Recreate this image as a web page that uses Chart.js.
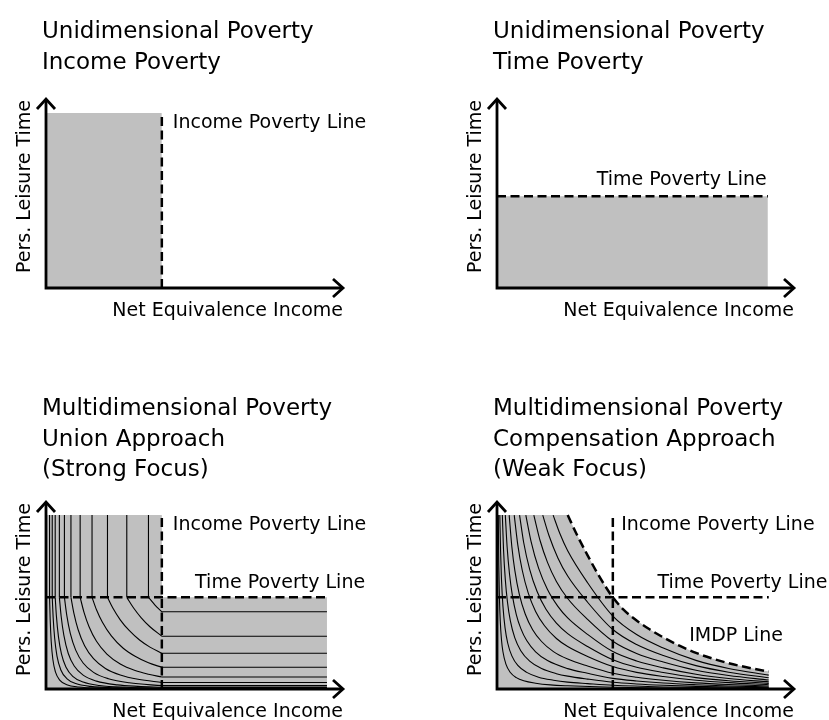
<!DOCTYPE html>
<html lang="en">

<head>
    <meta charset="UTF-8">
    <title>Poverty Concepts</title>
    <script src="https://cdn.jsdelivr.net/npm/chart.js"></script>
    <style>
        body { margin: 0; background: #fff; }
        .painel { position: absolute; }
    </style>
</head>

<body>
    <canvas id="chartIncome" class="painel" width="414" height="340" style="left:0;top:0"></canvas>
    <canvas id="chartTime" class="painel" width="415" height="340" style="left:414px;top:0"></canvas>
    <canvas id="chartUnion" class="painel" width="414" height="380" style="left:0;top:340px"></canvas>
    <canvas id="chartComp" class="painel" width="415" height="380" style="left:414px;top:340px"></canvas>

<script>
    // both axes run 0..100 (arrow tips)
    const AXIS_MAX = 100;
    const X_LABEL = 'Net Equivalence Income';
    const Y_LABEL = 'Pers. Leisure Time';

    const INCOME_LINE = 39;        // income poverty line (x)
    const TIME_LINE = 49;          // time poverty line (y), lower panels
    const TIME_LINE_TOP = 48.5;    // time poverty line, upper right panel
    const SHADE_TOP = 93;          // top of the shaded areas, lower panels
    const INCOME_SHADE_TOP = 92.6;
    const TIME_SHADE_RIGHT = 91.2;
    const UNION_RIGHT = 94.6;
    const COMP_RIGHT = 91.5;

    // union approach: contour levels
    const unionVerticalX = [34.5, 27.2, 20.7, 15.5, 11.5, 8.4, 6.2, 4.5, 3.1, 2.1, 1.2];
    const unionHorizontalY = [41.3, 28.2, 19.1, 11.6, 6.4, 3.5, 1.8, 0.9, 0.45, 0.25, 0.12];
    const unionCurves = [
        [[34.5, 49], [36.7, 44.9], [39, 41.3]],
        [[27.2, 49], [29.5, 43.3], [32, 38.2], [35, 33.3], [39, 28.2]],
        [[20.7, 49], [22.5, 43.3], [25, 37], [28, 31.3], [31.5, 26.2], [35, 22.4], [39, 19.1]],
        [[15.5, 49], [17, 42.4], [19, 35.7], [22, 28.4], [26, 21.8], [30, 17.5], [34.5, 14], [39, 11.6]],
        [[11.5, 49], [12.8, 41], [14.5, 33.3], [17, 25.5], [20.5, 18.7], [25, 13.4], [30, 9.9], [34.5, 7.9], [39, 6.4]],
        [[8.4, 49], [9.4, 40.4], [10.8, 31.8], [13, 23.1], [16, 16.2], [20, 11], [25, 7.5], [31, 5.2], [39, 3.5]],
        [[6.2, 49], [7, 39.4], [8.2, 29.6], [10, 20.8], [12.5, 13.9], [16, 8.9], [21, 5.5], [28, 3.3], [39, 1.8]],
        [[4.5, 49], [5.1, 38.9], [6, 28.8], [7.5, 19], [9.5, 12.3], [12.5, 7.4], [17, 4.2], [24, 2.2], [31, 1.4], [39, 0.9]],
        [[3.1, 49], [3.5, 39.1], [4.2, 27.9], [5.2, 18.8], [6.7, 11.8], [9, 6.8], [12.5, 3.7], [18, 1.9], [27, 0.9], [39, 0.45]],
        [[2.1, 49], [2.4, 38.5], [2.9, 27.4], [3.7, 17.6], [5, 10.2], [7, 5.6], [10, 2.9], [15, 1.4], [24, 0.6], [39, 0.25]],
        [[1.2, 49], [1.4, 37.5], [1.75, 25.5], [2.3, 15.9], [3.2, 9], [4.7, 4.6], [7, 2.3], [11, 1.07], [18, 0.46], [39, 0.12]]
    ];

    // compensation approach
    const imdpLine = [[23.8, 93], [27, 82.2], [30.5, 71.5], [34, 61.4], [37.5, 52.4], [39, 49], [42.5, 42.6], [47, 36.6],
        [51.5, 31.8], [56, 27.6], [61.6, 23], [67, 19.3], [72.7, 16.2], [78, 13.8], [84, 11.6], [91.5, 9.3]];
    const compCurves = [
        [[18.9, 93], [21.2, 83], [23.8, 73.9], [30.5, 56.8], [39, 39], [47, 29.1], [56, 21.9], [67, 15.3], [78, 11], [91.5, 7.4]],
        [[15.4, 93], [17.5, 82.1], [20.5, 70.1], [23.8, 60.4], [30.5, 46.4], [39, 31.8], [47, 23.8], [56, 17.9], [67, 12.5], [78, 9], [91.5, 6]],
        [[12.4, 93], [14.5, 79.4], [17, 67.7], [20, 57.5], [23.8, 48.4], [30.5, 37.2], [39, 25.5], [47, 19], [56, 14.4], [67, 10], [78, 7.2], [91.5, 4.8]],
        [[9.7, 93], [11.5, 78.7], [14, 64.6], [17, 53.2], [20.5, 44.2], [23.8, 38], [30.5, 29.2], [39, 20], [47, 15], [56, 11.3], [67, 7.9], [78, 5.6], [91.5, 3.8]],
        [[7.6, 93], [9, 78.2], [11, 64], [13.5, 52.1], [16.5, 42.6], [20, 35.2], [23.8, 29.6], [30.5, 22.7], [39, 15.6], [47, 11.6], [56, 8.8], [67, 6.1], [78, 4.4], [91.5, 3]],
        [[5.8, 93], [7, 77.1], [8.5, 63.5], [10.5, 51.4], [13, 41.5], [16, 33.8], [20, 27], [23.8, 22.7], [30.5, 17.4], [39, 12], [47, 8.9], [56, 6.7], [67, 4.7], [78, 3.4], [91.5, 2.3]],
        [[4.1, 93], [5, 76.1], [6, 63.4], [7.5, 50.7], [9.5, 40.1], [12, 31.7], [15, 25.4], [19, 20], [23.8, 16], [30.5, 12.3], [39, 8.4], [47, 6.3], [56, 4.7], [67, 3.3], [78, 2.4], [91.5, 1.6]],
        [[2.8, 93], [3.4, 76.2], [4.2, 61.6], [5.2, 49.8], [6.5, 39.8], [8, 32.4], [10, 25.9], [13, 19.9], [17, 15.2], [23.8, 10.9], [30.5, 8.4], [39, 5.7], [47, 4.3], [56, 3.2], [67, 2.3], [78, 1.6], [91.5, 1.1]],
        [[1.8, 93], [2.2, 74.5], [2.8, 58.5], [3.5, 46.8], [4.5, 36.4], [6, 27.3], [8, 20.5], [11, 14.9], [15, 10.9], [20, 8.2], [23.8, 6.9], [30.5, 5.3], [39, 3.6], [47, 2.7], [56, 2], [67, 1.4], [78, 1], [91.5, 0.7]],
        [[0.95, 93], [1.2, 73.8], [1.5, 59], [2, 44.3], [2.7, 32.8], [3.6, 24.6], [5, 17.7], [7, 12.6], [10, 8.9], [14, 6.3], [19, 4.7], [23.8, 3.7], [30.5, 2.9], [39, 2], [56, 1.1], [78, 0.55], [91.5, 0.4]],
        [[0.43, 93], [0.6, 66.4], [0.8, 49.8], [1.1, 36.2], [1.5, 26.5], [2, 19.9], [3, 13.3], [4.5, 8.8], [6.5, 6.1], [9, 4.4], [13, 3.1], [18, 2.2], [23.8, 1.7], [39, 0.9], [56, 0.5], [91.5, 0.2]]
    ];


    const GRAY = '#c0c0c0';

    function linha(points, extra) {
        return Object.assign({
            data: points.map(p => ({ x: p[0], y: p[1] })),
            showLine: true,
            pointRadius: 0,
            borderColor: '#000',
            borderWidth: 1.1,
            fill: false
        }, extra);
    }

    const tracejado = { borderWidth: 2.5, borderDash: [9, 4.5] };
    const suave = { cubicInterpolationMode: 'monotone' };
    const sombra = { borderColor: 'rgba(0,0,0,0)', backgroundColor: GRAY, fill: 'origin' };

    // axes with arrows, titles and labels
    const decor = {
        id: 'decor',
        afterDatasetsDraw(chart, args, opts) {
            const ctx = chart.ctx;
            const xs = chart.scales.x;
            const ys = chart.scales.y;
            const x0 = xs.getPixelForValue(0), y0 = ys.getPixelForValue(0);
            const xe = xs.getPixelForValue(AXIS_MAX), ye = ys.getPixelForValue(AXIS_MAX);

            ctx.save();
            ctx.strokeStyle = '#000';
            ctx.lineWidth = 2.8;
            ctx.beginPath();
            ctx.moveTo(x0, ye + 1);
            ctx.lineTo(x0, y0);
            ctx.lineTo(xe - 1, y0);
            ctx.stroke();
            ctx.beginPath();
            ctx.moveTo(x0 - 9, ye + 10);
            ctx.lineTo(x0, ye);
            ctx.lineTo(x0 + 9, ye + 10);
            ctx.moveTo(xe - 10, y0 - 9);
            ctx.lineTo(xe, y0);
            ctx.lineTo(xe - 10, y0 + 9);
            ctx.stroke();

            ctx.fillStyle = '#000';
            ctx.textBaseline = 'alphabetic';
            ctx.font = '23px "DejaVu Sans"';
            ctx.textAlign = 'left';
            opts.title.forEach((t, i) => ctx.fillText(t, x0 - 4, opts.titleY + i * 30.5));

            ctx.font = '19px "DejaVu Sans"';
            opts.notes.forEach(n => {
                ctx.textAlign = n.align || 'left';
                ctx.fillText(n.text, xs.getPixelForValue(n.x), ys.getPixelForValue(n.y));
            });

            ctx.textAlign = 'right';
            ctx.fillText(X_LABEL, xe, y0 + 28);
            ctx.translate(x0 - 16, ye + 1);
            ctx.rotate(-Math.PI / 2);
            ctx.fillText(Y_LABEL, 0, 0);
            ctx.restore();
        }
    };

    function painel(id, pad, datasets, decorOpts) {
        return new Chart(document.getElementById(id), {
            type: 'scatter',
            data: { datasets: datasets },
            options: {
                responsive: false,
                animation: false,
                layout: { padding: pad },
                scales: {
                    x: { type: 'linear', display: false, min: 0, max: AXIS_MAX },
                    y: { type: 'linear', display: false, min: 0, max: AXIS_MAX }
                },
                plugins: {
                    legend: { display: false },
                    tooltip: { enabled: false },
                    decor: decorOpts
                }
            },
            plugins: [decor]
        });
    }

    const padEsq = (top, bottom) => ({ left: 46, right: 71, top: top, bottom: bottom });
    const padDir = (top, bottom) => ({ left: 83, right: 35, top: top, bottom: bottom });

    // 1. income poverty
    painel('chartIncome', padEsq(99, 52), [
        linha([[INCOME_LINE, 0], [INCOME_LINE, INCOME_SHADE_TOP]], tracejado),
        linha([[0, INCOME_SHADE_TOP], [INCOME_LINE, INCOME_SHADE_TOP]], sombra)
    ], {
        title: ['Unidimensional Poverty', 'Income Poverty'],
        titleY: 38,
        notes: [{ text: 'Income Poverty Line', x: 42.7, y: 84.7 }]
    });

    // 2. time poverty
    painel('chartTime', padDir(99, 52), [
        linha([[0, TIME_LINE_TOP], [TIME_SHADE_RIGHT, TIME_LINE_TOP]], tracejado),
        linha([[0, TIME_LINE_TOP], [TIME_SHADE_RIGHT, TIME_LINE_TOP]], sombra)
    ], {
        title: ['Unidimensional Poverty', 'Time Poverty'],
        titleY: 38,
        notes: [{ text: 'Time Poverty Line', x: 90.8, y: 54.5, align: 'right' }]
    });

    // 3. union approach
    const verticais = unionVerticalX.flatMap(x => [[x, SHADE_TOP], [x, TIME_LINE], [x, null]]);
    const horizontais = unionHorizontalY.flatMap(y => [[INCOME_LINE, y], [UNION_RIGHT, y], [UNION_RIGHT, null]]);
    painel('chartUnion', padEsq(162, 31), [
        linha([[INCOME_LINE, 0], [INCOME_LINE, SHADE_TOP]], tracejado),
        linha([[0, TIME_LINE], [UNION_RIGHT, TIME_LINE]], tracejado),
        linha(verticais),
        linha(horizontais),
        ...unionCurves.map(c => linha(c, suave)),
        linha([[0, SHADE_TOP], [INCOME_LINE, SHADE_TOP], [INCOME_LINE, TIME_LINE], [UNION_RIGHT, TIME_LINE]], sombra)
    ], {
        title: ['Multidimensional Poverty', 'Union Approach', '(Strong Focus)'],
        titleY: 75,
        notes: [
            { text: 'Income Poverty Line', x: 42.7, y: 85 },
            { text: 'Time Poverty Line', x: 50.2, y: 53.9 }
        ]
    });

    // 4. compensation approach
    painel('chartComp', padDir(162, 31), [
        linha(imdpLine, Object.assign({}, tracejado, suave)),
        linha([[INCOME_LINE, 0], [INCOME_LINE, SHADE_TOP]], tracejado),
        linha([[0, TIME_LINE], [COMP_RIGHT, TIME_LINE]], tracejado),
        ...compCurves.map(c => linha(c, suave)),
        linha([[0, SHADE_TOP]].concat(imdpLine), sombra)
    ], {
        title: ['Multidimensional Poverty', 'Compensation Approach', '(Weak Focus)'],
        titleY: 75,
        notes: [
            { text: 'Income Poverty Line', x: 41.8, y: 85 },
            { text: 'Time Poverty Line', x: 54, y: 53.9 },
            { text: 'IMDP Line', x: 64.7, y: 25.8 }
        ]
    });
</script>
</body>

</html>
